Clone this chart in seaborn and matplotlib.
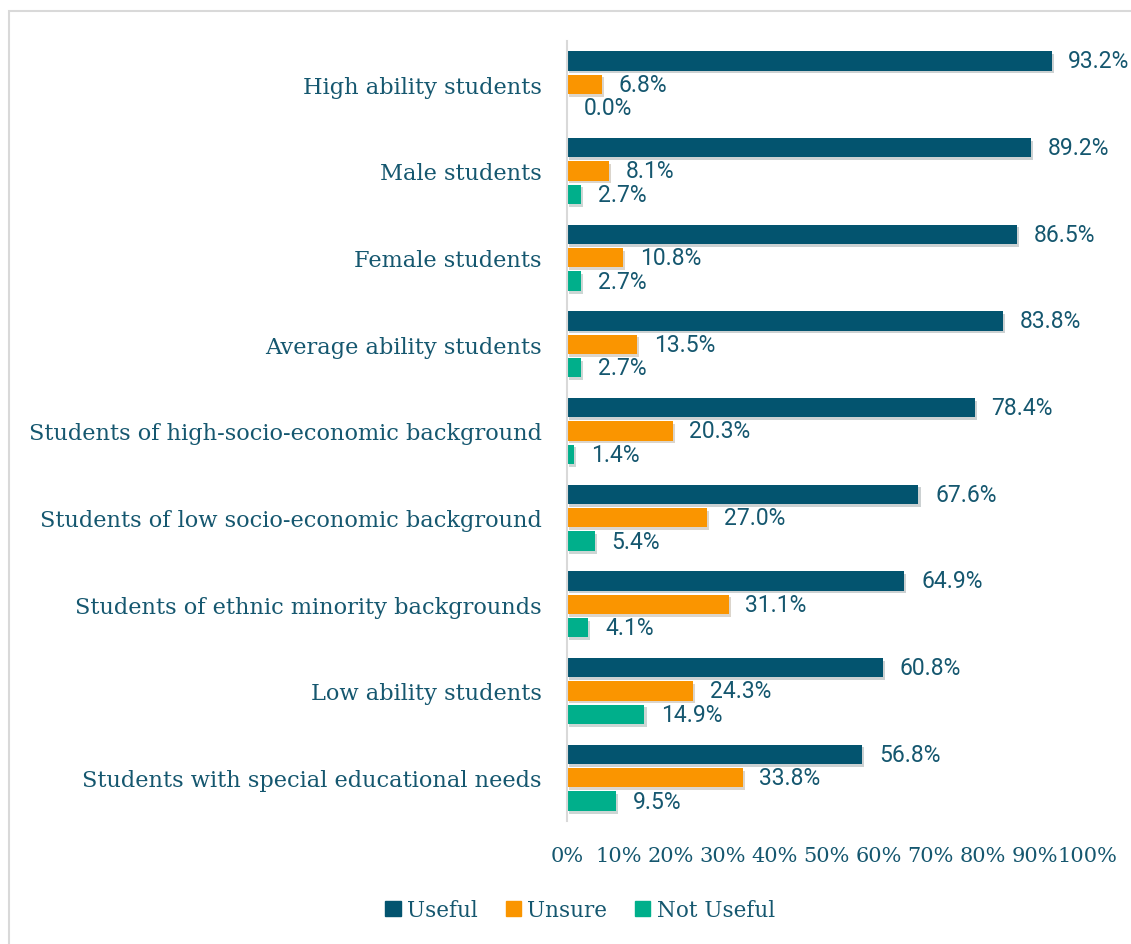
import matplotlib
matplotlib.use("Agg")
import matplotlib.pyplot as plt
import matplotlib.patches as mpatches
import matplotlib.patheffects as pe
import numpy as np
import pandas as pd
import seaborn as sns

# DATA
categories = [
    "High ability students",
    "Male students",
    "Female students",
    "Average ability students",
    "Students of high-socio-economic background",
    "Students of low socio-economic background",
    "Students of ethnic minority backgrounds",
    "Low ability students",
    "Students with special educational needs",
]
series = ["Useful", "Unsure", "Not Useful"]
useful = [93.2, 89.2, 86.5, 83.8, 78.4, 67.6, 64.9, 60.8, 56.8]
unsure = [6.8, 8.1, 10.8, 13.5, 20.3, 27.0, 31.1, 24.3, 33.8]
not_useful = [0.0, 2.7, 2.7, 2.7, 1.4, 5.4, 4.1, 14.9, 9.5]
x_ticks = [0, 10, 20, 30, 40, 50, 60, 70, 80, 90, 100]

COLORS = ["#03546F", "#FA9500", "#00AF8B"]
TEXT = "#15576F"
SERIF = ["DejaVu Serif"]


def main():
    sns.set_style("white")
    plt.rcParams["font.family"] = ["Roboto", "DejaVu Sans"]

    df = pd.DataFrame({
        "category": np.repeat(categories, 3),
        "series": series * len(categories),
        "value": np.ravel(np.column_stack([useful, unsure, not_useful])),
    })

    fig = plt.figure(figsize=(11.31, 9.45), dpi=100)
    ax = fig.add_axes([0.5013, 0.1302, 0.4597, 0.8254])

    # outer frame
    fig.patches.append(mpatches.Rectangle((9 / 1131, -0.05), 1.2, 1 - 12 / 945 + 0.05,
                                          transform=fig.transFigure, fill=False,
                                          edgecolor="#D9D9D9", linewidth=1.5))

    sns.barplot(data=df, y="category", x="value", hue="series", order=categories,
                hue_order=series, palette=COLORS, width=0.81, gap=0.17,
                orient="h", ax=ax, saturation=1, linewidth=0)

    for patch in ax.patches:
        patch.set_path_effects([pe.SimplePatchShadow(offset=(1.5, -2), alpha=0.2),
                                pe.Normal()])

    for cont in ax.containers:
        ax.bar_label(cont, labels=[f"{v:.1f}%" for v in cont.datavalues],
                     padding=12, fontsize=16.5, color=TEXT)

    ax.set_xlim(0, 100)
    ax.set_ylim(len(categories) - 0.5, -0.5)
    ax.set_xticks(x_ticks)
    ax.set_xticklabels([f"{t}%" for t in x_ticks], fontsize=15, color=TEXT, family=SERIF)
    ax.tick_params(axis="x", length=0, pad=18)
    ax.tick_params(axis="y", length=0, pad=18)
    for lbl in ax.get_yticklabels():
        lbl.set_fontsize(16.2)
        lbl.set_color(TEXT)
        lbl.set_family(SERIF)
    ax.set_xlabel("")
    ax.set_ylabel("")
    for s in ["top", "right", "bottom"]:
        ax.spines[s].set_visible(False)
    ax.spines["left"].set_color("#D9D9D9")
    ax.spines["left"].set_linewidth(1.5)

    handles = [mpatches.Patch(color=c, label=s) for c, s in zip(COLORS, series)]
    leg = fig.legend(handles=handles, loc="center", bbox_to_anchor=(0.513, 0.036), ncol=3,
                     frameon=False, handlelength=0.7, handleheight=0.7, handletextpad=0.3,
                     columnspacing=1.3, prop={"family": SERIF, "size": 15.5})
    for t in leg.get_texts():
        t.set_color(TEXT)
    ax.get_legend().remove()

    fig.savefig("out.png", dpi=100, facecolor="white")


if __name__ == '__main__':
    main()
